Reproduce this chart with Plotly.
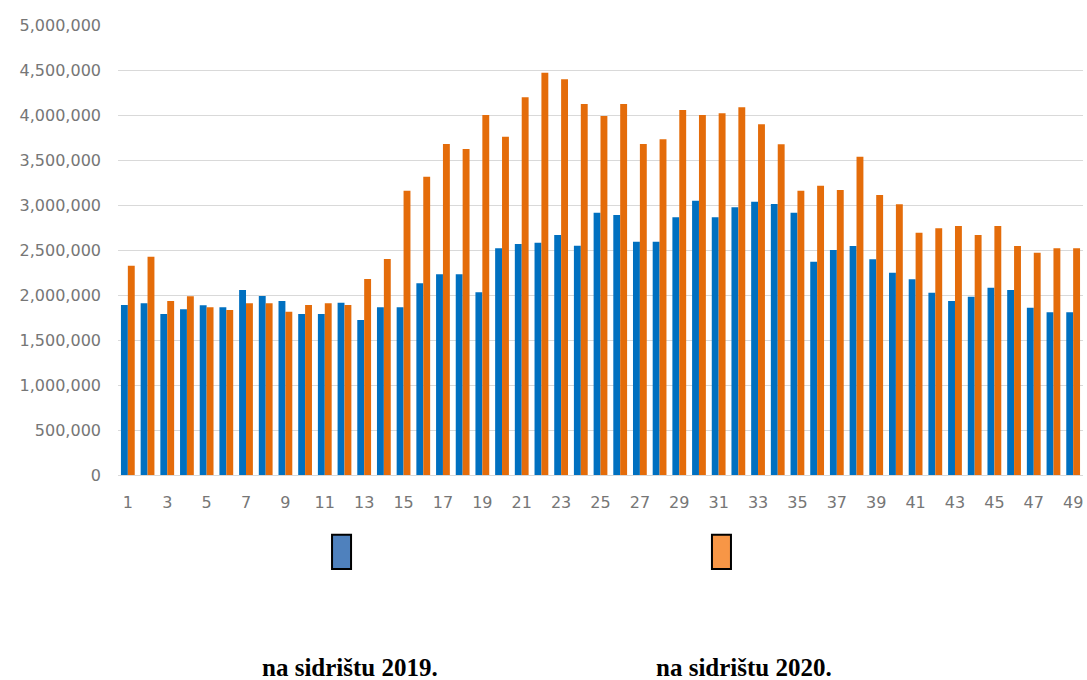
import plotly.graph_objects as go

weeks = list(range(1, 50))

sidriste_2019 = [1.889, 1.907, 1.789, 1.841, 1.885, 1.863, 2.056, 1.989, 1.933, 1.789,
                 1.789, 1.915, 1.722, 1.863, 1.863, 2.130, 2.230, 2.230, 2.030, 2.519,
                 2.567, 2.581, 2.667, 2.548, 2.915, 2.889, 2.593, 2.593, 2.863, 3.048,
                 2.863, 2.974, 3.037, 3.011, 2.915, 2.370, 2.500, 2.544, 2.396, 2.248,
                 2.174, 2.026, 1.933, 1.981, 2.081, 2.056, 1.859, 1.807, 1.807]
sidriste_2020 = [2.326, 2.426, 1.933, 1.985, 1.863, 1.833, 1.907, 1.907, 1.815, 1.889,
                 1.907, 1.889, 2.178, 2.400, 3.159, 3.315, 3.678, 3.622, 4.000, 3.759,
                 4.196, 4.470, 4.396, 4.122, 3.989, 4.122, 3.678, 3.730, 4.056, 4.000,
                 4.019, 4.085, 3.896, 3.674, 3.159, 3.215, 3.167, 3.537, 3.111, 3.007,
                 2.693, 2.741, 2.767, 2.667, 2.767, 2.544, 2.470, 2.519, 2.519]
sidriste_2019 = [v * 1e6 for v in sidriste_2019]
sidriste_2020 = [v * 1e6 for v in sidriste_2020]

legend_labels = ["na sidrištu 2019.", "na sidrištu 2020."]
bar_colors = ["#0070C0", "#E46C0A"]
swatch_colors = ["#4F81BD", "#F79646"]

fig = go.Figure()
fig.add_trace(go.Bar(x=weeks, y=sidriste_2019, name=legend_labels[0],
                     marker=dict(color=bar_colors[0], line=dict(width=0))))
fig.add_trace(go.Bar(x=weeks, y=sidriste_2020, name=legend_labels[1],
                     marker=dict(color=bar_colors[1], line=dict(width=0))))

tick_font = dict(family="DejaVu Sans", size=16, color="#767676")

fig.update_layout(
    width=1087, height=680,
    margin=dict(l=118, r=4, t=25, b=205),
    paper_bgcolor="white", plot_bgcolor="white",
    barmode="group", bargap=0.3, bargroupgap=0,
    showlegend=False,
    xaxis=dict(range=[0.5, 49.5], tickmode="array",
               tickvals=list(range(1, 50, 2)),
               ticktext=[str(w) for w in range(1, 50, 2)],
               tickfont=tick_font, showgrid=False, showline=False, zeroline=False,
               ticks="", ticklabelstandoff=16),
    yaxis=dict(range=[0, 5000000], tickmode="array",
               tickvals=list(range(0, 5000001, 500000)),
               tickformat=",d", tickfont=tick_font,
               showgrid=True, gridcolor="#D9D9D9", gridwidth=1,
               zeroline=True, zerolinecolor="#D9D9D9", zerolinewidth=1,
               showline=False, ticks="", ticklabelstandoff=16),
)

# custom legend below the chart
swatch_x = [(0.2218, 0.2415), (0.6155, 0.6352)]
text_x = [0.2404, 0.6487]
for i in range(2):
    fig.add_shape(type="rect", xref="paper", yref="paper",
                  x0=swatch_x[i][0], x1=swatch_x[i][1], y0=-0.209, y1=-0.133,
                  fillcolor=swatch_colors[i], line=dict(color="black", width=2))
    fig.add_annotation(xref="paper", yref="paper", x=text_x[i], y=-0.427,
                       text="<b>" + legend_labels[i] + "</b>", showarrow=False,
                       font=dict(family="Liberation Serif", size=25, color="black"),
                       xanchor="center", yanchor="middle")

fig.write_html("out.html", config={"displayModeBar": False},
               post_script="document.body.style.margin='0';document.body.style.overflow='hidden';")
